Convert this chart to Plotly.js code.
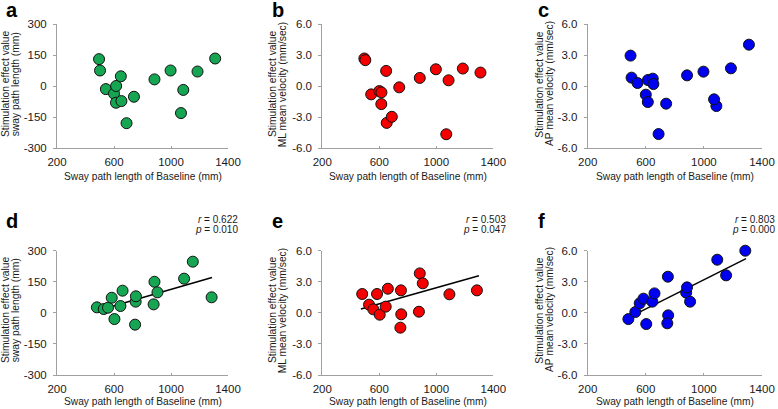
<!DOCTYPE html>
<html>
<head>
<meta charset="utf-8">
<script src="https://cdn.plot.ly/plotly-3.0.1.min.js"></script>
<style>html,body{margin:0;padding:0;background:#fff;}#chart{width:778px;height:409px;}</style>
</head>
<body>
<div id="chart"></div>
<script>
// ---- data ----
const xTop = [495, 502, 543, 600, 615, 648, 614, 652, 688, 740, 884, 997, 1086, 1070, 1186, 1310];
const swayTop = [130, 75, -15, -37, 0, 47, -81, -73, -180, -52, 32, 75, -19, -131, 70, 133];
const mlTop = [2.66, 2.50, -0.81, -0.49, -0.62, 1.46, -1.75, -3.57, -2.98, -0.13, 0.78, 1.62, 0.55, -4.67, 1.69, 1.30];
const apTop = [2.94, 0.81, 0.29, -0.84, 0.58, 0.71, -1.55, 0.19, -4.65, -1.71, 1.03, 1.39, -1.94, -1.29, 1.71, 4.00];

const xBot = [480, 528, 558, 584, 603, 645, 660, 752, 754, 748, 878, 884, 905, 1092, 1153, 1285];
const swayBot = [26.5, 18.5, 25, 73, -30, 33, 107, 54, 80, -57, 41, 150, 99, 165, 247, 75];
const mlBot = [1.82, 0.79, 0.34, 1.82, -0.18, 0.60, 2.33, 2.17, -0.14, -1.43, 0.11, 3.81, 2.85, 1.79, null, 2.17];
const apBot = [-0.60, 0.08, 0.92, 1.37, -1.08, 1.08, 1.88, 3.49, -0.24, -1.01, 1.95, 2.46, 1.08, 5.13, 3.62, 6.00];

const fitX_d = [481, 1288], fitY_d = [10.5, 171];
const fitX_e = [471, 1299], fitY_e = [0.37, 3.59];
const fitX_f = [484, 1290], fitY_f = [-0.43, 5.23];

const xTicks = [200, 600, 1000, 1400];
const xTickText = ['200', '600', '1000', '1400'];
const yTicksLen = [-300, -150, 0, 150, 300];
const yTickTextLen = ['-300', '-150', '0', '150', '300'];
const yTicksVel = [-6, -3, 0, 3, 6];
const yTickTextVel = ['-6.0', '-3.0', '0.0', '3.0', '6.0'];

const panelLetters = ['a', 'b', 'c', 'd', 'e', 'f'];
const yTitle1 = 'Stimulation effect value';
const yTitle2 = ['sway path length (mm)', 'ML mean velocity (mm/sec)', 'AP mean velocity (mm/sec)'];
const xTitle = 'Sway path length of Baseline (mm)';
const stats = [['r = 0.622', 'p = 0.010'], ['r = 0.503', 'p = 0.047'], ['r = 0.803', 'p = 0.000']];

// ---- layout helpers (pixel -> paper) ----
const W = 778, H = 409;
const px = x => x / W;
const py = y => 1 - y / H;
const FONT = 'Arial, "Liberation Sans", sans-serif';
const GREEN = '#16a553', RED = '#f40000', BLUE = '#0000f0';

const colX = [[57, 228], [322.3, 493.3], [587.7, 762]];
const rowY = [[24, 148], [250.7, 375]];

const traces = [];
function scatter(x, y, color, i) {
  traces.push({
    type: 'scatter', mode: 'markers', x: x, y: y,
    xaxis: i === 0 ? 'x' : 'x' + (i + 1), yaxis: i === 0 ? 'y' : 'y' + (i + 1),
    marker: {size: 11, color: color, line: {color: '#111', width: 1}},
    cliponaxis: false,
    hoverinfo: 'skip'
  });
}
function fitLine(x, y, i) {
  traces.push({
    type: 'scatter', mode: 'lines', x: x, y: y,
    xaxis: 'x' + (i + 1), yaxis: 'y' + (i + 1),
    line: {color: '#000', width: 1.5}, hoverinfo: 'skip', cliponaxis: false
  });
}
scatter(xTop, swayTop, GREEN, 0);
scatter(xTop, mlTop, RED, 1);
scatter(xTop, apTop, BLUE, 2);
fitLine(fitX_d, fitY_d, 3);
fitLine(fitX_e, fitY_e, 4);
fitLine(fitX_f, fitY_f, 5);
scatter(xBot, swayBot, GREEN, 3);
scatter(xBot, mlBot, RED, 4);
scatter(xBot, apBot, BLUE, 5);

const layout = {
  width: W, height: H,
  margin: {l: 0, r: 0, t: 0, b: 0},
  paper_bgcolor: '#fff', plot_bgcolor: 'rgba(0,0,0,0)',
  showlegend: false,
  font: {family: FONT, color: '#1a1a1a'},
  annotations: []
};

for (let i = 0; i < 6; i++) {
  const col = i % 3, row = Math.floor(i / 3);
  const sfx = i === 0 ? '' : String(i + 1);
  const isLen = col === 0;
  layout['xaxis' + sfx] = {
    domain: [px(colX[col][0]), px(colX[col][1])],
    anchor: 'y' + sfx,
    range: [200, 1400],
    tickmode: 'array', tickvals: xTicks, ticktext: xTickText,
    ticks: 'inside', ticklen: 2, tickcolor: '#a0a0a0',
    showline: true, linecolor: '#a0a0a0', linewidth: 1,
    showgrid: false, zeroline: false,
    tickfont: {size: 11.5, family: FONT, color: '#1a1a1a'},
    ticklabelstandoff: 3,
    fixedrange: true
  };
  layout['yaxis' + sfx] = {
    domain: [py(rowY[row][1]), py(rowY[row][0])],
    anchor: 'x' + sfx,
    range: isLen ? [-300, 300] : [-6, 6],
    tickmode: 'array',
    tickvals: isLen ? yTicksLen : yTicksVel,
    ticktext: isLen ? yTickTextLen : yTickTextVel,
    ticks: 'outside', ticklen: 3, tickcolor: '#a0a0a0',
    showline: true, linecolor: '#a0a0a0', linewidth: 1,
    showgrid: false, zeroline: false,
    tickfont: {size: 11.5, family: FONT, color: '#1a1a1a'},
    ticklabelstandoff: 4,
    fixedrange: true
  };

  const x0 = colX[col][0], x1 = colX[col][1];
  const yMid = row === 0 ? 84 : 310;
  const titleX = [5, 272, 538.7][col];
  // y titles (two lines)
  layout.annotations.push({xref: 'paper', yref: 'paper', x: px(titleX), y: py(yMid),
    text: yTitle1, textangle: -90, showarrow: false, xanchor: 'center', yanchor: 'middle',
    font: {size: 10.3, family: FONT, color: '#1a1a1a'}});
  layout.annotations.push({xref: 'paper', yref: 'paper', x: px(titleX + 10.3), y: py(yMid),
    text: yTitle2[col], textangle: -90, showarrow: false, xanchor: 'center', yanchor: 'middle',
    font: {size: 10.3, family: FONT, color: '#1a1a1a'}});
  // x title
  layout.annotations.push({xref: 'paper', yref: 'paper', x: px((x0 + x1) / 2), y: py(row === 0 ? 176 : 401),
    text: xTitle, showarrow: false, xanchor: 'center', yanchor: 'middle',
    font: {size: 10.2, family: FONT, color: '#1a1a1a'}});
  // panel letter
  const letterX = [6, 272, 537.5][col];
  layout.annotations.push({xref: 'paper', yref: 'paper', x: px(letterX - 2), y: py(row === 0 ? 10 : 221),
    text: '<b>' + panelLetters[i] + '</b>', showarrow: false, xanchor: 'left', yanchor: 'middle',
    font: {size: 20, family: FONT, color: '#000'}});
  // stats
  if (row === 1) {
    const rx = [240.5, 507.7, 776.5][col];
    const s = stats[col];
    layout.annotations.push({xref: 'paper', yref: 'paper', x: px(rx), y: py(219),
      text: '<i>r</i>' + s[0].slice(1), showarrow: false, xanchor: 'right', yanchor: 'middle',
      font: {size: 10, family: FONT, color: '#1a1a1a'}});
    layout.annotations.push({xref: 'paper', yref: 'paper', x: px(rx), y: py(229.5),
      text: '<i>p</i>' + s[1].slice(1), showarrow: false, xanchor: 'right', yanchor: 'middle',
      font: {size: 10, family: FONT, color: '#1a1a1a'}});
  }
}

Plotly.newPlot('chart', traces, layout, {displayModeBar: false, staticPlot: true});
</script>
</body>
</html>
